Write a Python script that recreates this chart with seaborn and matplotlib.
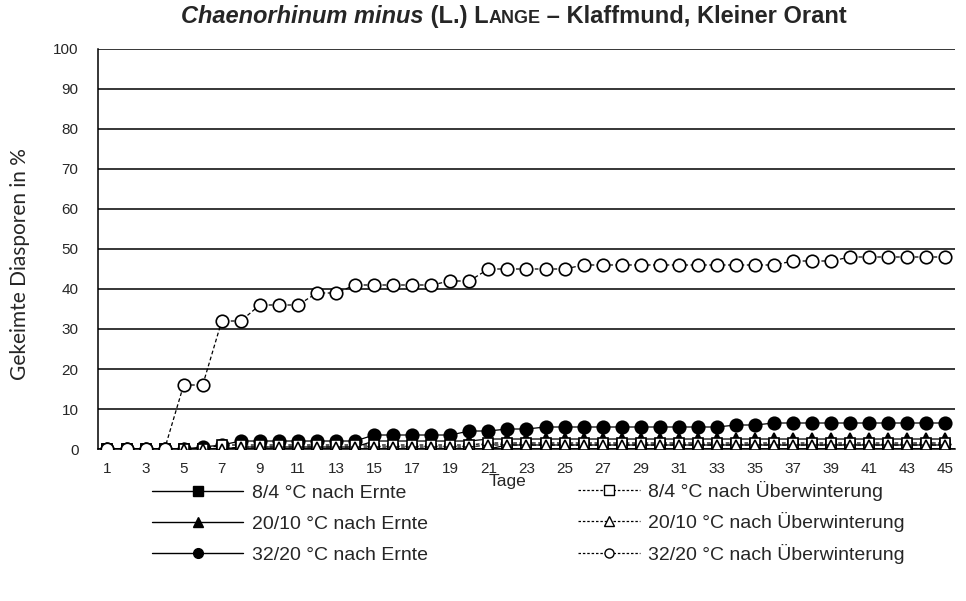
import matplotlib
matplotlib.use("Agg")
import matplotlib.pyplot as plt
import seaborn as sns
from matplotlib.lines import Line2D

days = list(range(1, 46))

# nach Ernte (filled markers, solid lines)
ernte_8_4 = [0] * 21 + [1] * 24
ernte_20_10 = [0] * 7 + [0.5] * 7 + [2] * 6 + [2.5] * 25
ernte_32_20 = [0] * 5 + [0.5, 1] + [2] * 7 + [3.5] * 5 + [4.5] * 2 + [5] * 2 + [5.5] * 10 + [6] * 2 + [6.5] * 10

# nach Ueberwinterung (open markers, dashed lines)
uw_8_4 = [0] * 6 + [1] * 14 + [1.5] * 25
uw_20_10 = [0] * 7 + [0.5] * 13 + [1] * 25
uw_32_20 = ([0] * 4 + [16] * 2 + [32] * 2 + [36] * 3 + [39] * 2 + [41] * 5 + [42] * 2
            + [45] * 5 + [46] * 11 + [47] * 3 + [48] * 6)

labels = ["8/4 °C nach Ernte", "20/10 °C nach Ernte", "32/20 °C nach Ernte",
          "8/4 °C nach Überwinterung", "20/10 °C nach Überwinterung", "32/20 °C nach Überwinterung"]
series = [ernte_8_4, ernte_20_10, ernte_32_20, uw_8_4, uw_20_10, uw_32_20]
markers = ["s", "^", "o", "s", "^", "o"]
sizes = [7.5, 9, 9, 7.5, 7, 9]

sns.set_style("white")
plt.rcParams["font.family"] = ["Liberation Sans", "DejaVu Sans"]

fig = plt.figure(figsize=(9.66, 6.01), dpi=100)
ax = fig.add_axes([0.1014, 0.2529, 0.8872, 0.6656])

handles = []
for i, (lab, vals) in enumerate(zip(labels, series)):
    ernte = i < 3
    ls = "-" if ernte else (0, (3, 2))
    fc = "black" if ernte else "white"
    sns.lineplot(x=days, y=vals, ax=ax, color="black", linewidth=0.9, linestyle=ls,
                 marker=markers[i], markersize=sizes[i], markerfacecolor=fc,
                 markeredgecolor="black", markeredgewidth=1.2, zorder=3 + i)
    handles.append(Line2D([], [], color="black", linewidth=1.0 if ernte else 0.9,
                          linestyle="-" if ernte else (0, (2, 1.5)), marker=markers[i],
                          markersize=7 if ernte else 6.5, markerfacecolor=fc,
                          markeredgecolor="black", markeredgewidth=1.0))

ax.set_xlim(0.5, 45.5)
ax.set_ylim(0, 100)
ax.set_yticks(range(0, 101, 10))
ax.set_xticks(range(1, 46, 2))
ax.set_xticks([k + 0.5 for k in range(0, 46)], minor=True)
ax.tick_params(axis="x", which="major", length=0, labelsize=11, pad=9)
ax.tick_params(axis="x", which="minor", length=5, width=1, direction="out", color="black")
ax.tick_params(axis="y", which="major", length=6, width=1, direction="out", color="black",
               labelsize=11, pad=8)
ax.yaxis.grid(True, color="black", linewidth=1.1)
ax.set_axisbelow(True)
for s in ["top", "right"]:
    ax.spines[s].set_visible(False)
for s in ["left", "bottom"]:
    ax.spines[s].set_color("black")
    ax.spines[s].set_linewidth(1.1)

ax.set_ylabel("Gekeimte Diasporen in %", family=["Lato", "DejaVu Sans"], fontsize=15, va="center")
ax.yaxis.set_label_coords((20 - 98) / 857, (449 - 264) / 400)
ax.set_xlabel("Tage", fontsize=12.5, va="center")
ax.xaxis.set_label_coords((508 - 98) / 857, (449 - 481) / 400)

# two legend columns placed separately
left = fig.legend(handles=handles[:3], labels=labels[:3], loc="upper left",
                  bbox_to_anchor=(152 / 966, 1 - 484 / 601), frameon=False, fontsize=14,
                  handlelength=4.7, handletextpad=0.45, labelspacing=0.7,
                  borderpad=0, borderaxespad=0)
right = fig.legend(handles=handles[3:], labels=labels[3:], loc="upper left",
                   bbox_to_anchor=(578 / 966, 1 - 481 / 601), frameon=False, fontsize=14,
                   handlelength=3.2, handletextpad=0.4, labelspacing=0.58,
                   borderpad=0, borderaxespad=0)

# title with italic species name and small caps author
fig.canvas.draw()
renderer = fig.canvas.get_renderer()
parts = [("Chaenorhinum minus", 17, "italic"), (" (L.) L", 17, "normal"),
         ("ANGE", 13, "normal"), (" – Klaffmund, Kleiner Orant", 17, "normal")]
texts = []
for txt, size, style in parts:
    t = fig.text(0, 0.962, txt, fontsize=size, fontweight="bold", style=style, va="baseline")
    texts.append(t)
widths = [t.get_window_extent(renderer).width for t in texts]
x = 514 - sum(widths) / 2
for t, w in zip(texts, widths):
    t.set_x(x / 966)
    x += w

fig.savefig("out.png", dpi=100)
